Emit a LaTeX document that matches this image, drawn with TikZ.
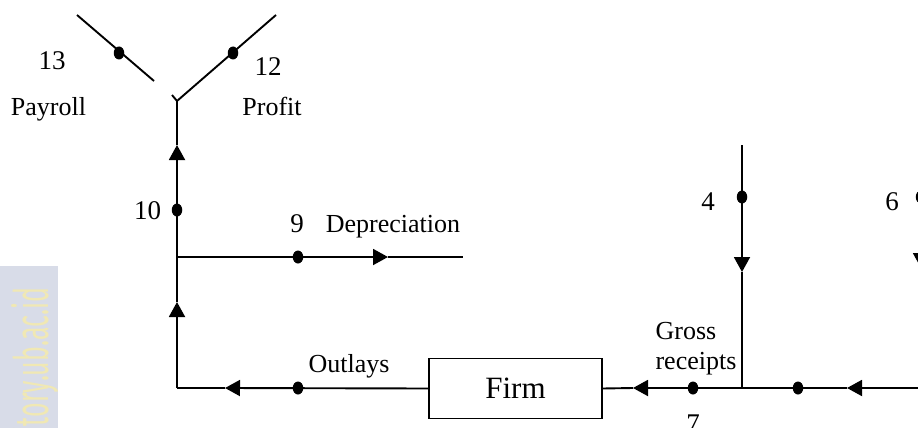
\documentclass[tikz,border=0pt]{standalone}
\usepackage{fontspec}
\setmainfont{Liberation Serif}
\newfontfamily\wmfont{Fira Sans}
\usetikzlibrary{arrows.meta,shapes.geometric}
\definecolor{wmbg}{RGB}{216,220,232}
\definecolor{wmtx}{RGB}{240,232,180}
\begin{document}
\begin{tikzpicture}[x=1pt,y=-1pt,
  flow/.style={line width=1.9pt},
  tip/.style={-{Triangle[length=15pt,width=16pt]}},
  dotnode/.style={ellipse,fill=black,draw=none,inner sep=0pt,minimum width=10.5pt,minimum height=13pt},
  lbl/.style={font=\fontsize{26}{26}\selectfont,inner sep=0pt,anchor=base},
  num/.style={font=\fontsize{27}{27}\selectfont,inner sep=0pt,anchor=base},
  firmbox/.style={draw,line width=1.4pt,minimum width=173pt,minimum height=60pt,inner sep=0pt,font=\fontsize{31}{31}\selectfont}]
\useasboundingbox (0,0) rectangle (918,428);
\clip (0,0) rectangle (918,428);
% watermark
\fill[wmbg] (0,266) rectangle (58,428);
\node[rotate=90,anchor=base east,inner sep=0pt,text=wmtx] (wm) at (48,287)
  {\scalebox{1}[1.9]{\wmfont\fontsize{25}{25}\selectfont itory.ub.ac.id}};
% coordinates
\coordinate (J) at (177,101);
\coordinate (stub) at (172,95);
\coordinate (R12) at (276,15);
\coordinate (L13a) at (77,15);
\coordinate (L13b) at (154,81);
\coordinate (C1) at (177,388);
\coordinate (D) at (177,257);
\coordinate (a1) at (177,302);
\coordinate (a2) at (177,145);
\coordinate (a3) at (388,257);
\coordinate (E9) at (463,257);
\coordinate (a4) at (225,388);
\coordinate (G) at (742,388);
\coordinate (a5) at (633,388);
\coordinate (a6) at (847,388);
\coordinate (Rend) at (940,388);
\coordinate (T4) at (742,145);
\coordinate (a7) at (742,272);
\coordinate (T6) at (921,145);
\coordinate (a8) at (921,268);
\coordinate (B6) at (921,388);
% firm
\node[firmbox] (firm) at (515.5,388.5) {Firm};
% flows
\draw[flow] (L13a) -- (L13b);
\draw[flow] (stub) -- (J);
\draw[flow] (J) -- (R12);
\draw[flow,tip] (C1) -- (a1);
\draw[flow,tip] (a1) -- (a2);
\draw[flow] (a2) -- (J);
\draw[flow,tip] (D) -- (a3);
\draw[flow] (a3) -- (E9);
\draw[flow,tip] (firm.west) -- (a4);
\draw[flow] (a4) -- (C1);
\draw[flow,tip] (G) -- (a5);
\draw[flow] (a5) -- (firm.east);
\draw[flow,tip] (Rend) -- (a6);
\draw[flow] (a6) -- (G);
\draw[flow,tip] (T4) -- (a7);
\draw[flow] (a7) -- (G);
\draw[flow,tip] (T6) -- (a8);
\draw[flow] (a8) -- (B6);
% dots
\node[dotnode] (d13) at (119,53) {};
\node[dotnode] (d12) at (233,53) {};
\node[dotnode] (d10) at (177,210) {};
\node[dotnode] (d9) at (298,257) {};
\node[dotnode] (dout) at (298,388) {};
\node[dotnode] (d7) at (693,388) {};
\node[dotnode] (d8) at (798,388) {};
\node[dotnode] (d4) at (742,197) {};
\node[dotnode] (d6) at (921,197) {};
% labels
\node[num] (n13) at (52,70) {13};
\node[num] (n12) at (268,75) {12};
\node[lbl] (payroll) at (48.5,115) {Payroll};
\node[lbl] (profit) at (272,115) {Profit};
\node[num] (n10) at (147.5,219) {10};
\node[num] (n9) at (297,232) {9};
\node[lbl] (dep) at (393,232) {Depreciation};
\node[lbl] (outl) at (349,372) {Outlays};
\node[lbl] (gross) at (686,339) {Gross};
\node[lbl] (rec) at (696,369) {receipts};
\node[num] (n4) at (708,210) {4};
\node[num] (n6) at (892,210) {6};
\node[num] (n7) at (693,432) {7};
\end{tikzpicture}
\end{document}
